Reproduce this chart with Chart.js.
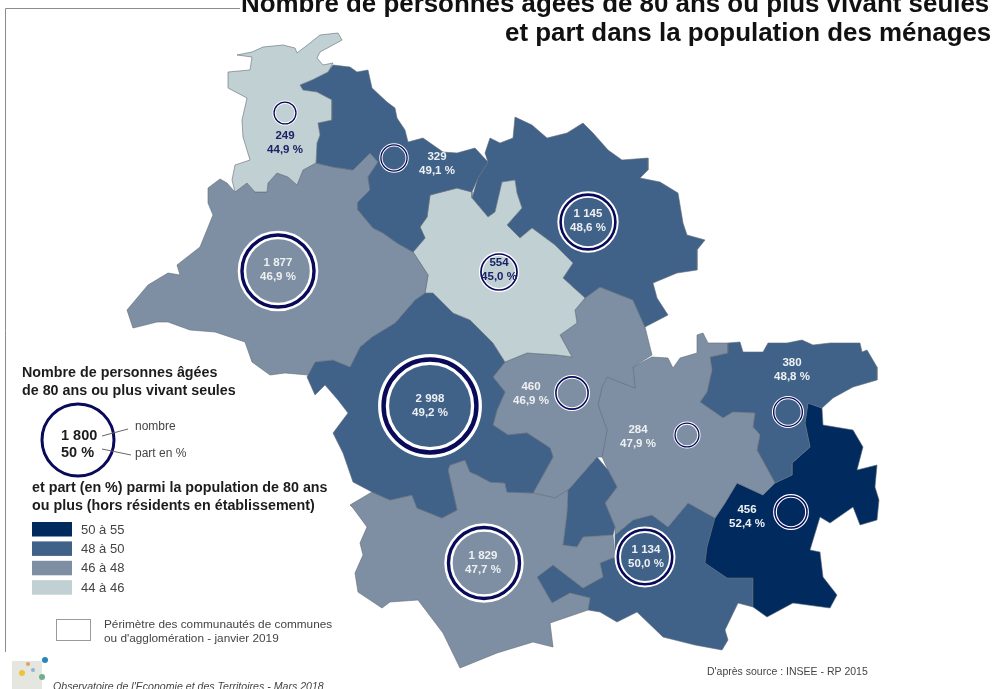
<!DOCTYPE html>
<html lang="fr">
<head>
<meta charset="utf-8">
<title>Personnes âgées vivant seules</title>
<script src="https://cdn.jsdelivr.net/npm/chart.js@4"></script>
<style>
    html, body { margin: 0; padding: 0; background: #fff; overflow: hidden; }
    canvas { display: block; }
</style>
</head>
<body>
<canvas id="myChart1" width="992" height="689"></canvas>
<script>
// *******
// * Data *
// *******
var counts = [249, 329, 1877, 1145, 554, 460, 2998, 1829, 1134, 284, 380, 456];
var shares = [44.9, 49.1, 46.9, 48.6, 45.0, 46.9, 49.2, 47.7, 50.0, 47.9, 48.8, 52.4];
var countLabels = ['249', '329', '1 877', '1 145', '554', '460', '2 998', '1 829', '1 134', '284', '380', '456'];
var shareLabels = ['44,9 %', '49,1 %', '46,9 %', '48,6 %', '45,0 %', '46,9 %', '49,2 %', '47,7 %', '50,0 %', '47,9 %', '48,8 %', '52,4 %'];
var classLabels = ['50 à 55', '48 à 50', '46 à 48', '44 à 46'];
var classColors = ['#012a5e', '#406288', '#7f8fa3', '#c0d0d3'];

// map coordinates
var circleX = [285, 394, 278, 588, 499, 572, 430, 484, 645, 687, 788, 791];
var circleY = [113, 158, 271, 222, 272, 393, 406, 563, 557, 435, 412, 512];
var labelX = [285, 437, 278, 588, 499, 531, 430, 483, 646, 638, 792, 747];
var labelY = [136, 157, 263, 214, 263, 387, 399, 556, 550, 430, 363, 510];

var regionA = [[237,55],[252,52],[263,47],[283,45],[295,48],[297,53],[310,43],[320,35],[338,33],[342,40],[333,45],[320,52],[317,58],[323,65],[333,63],[328,72],[312,80],[300,85],[303,90],[317,92],[332,100],[332,120],[318,123],[320,135],[317,143],[316,163],[303,170],[297,185],[288,177],[277,173],[268,183],[267,192],[255,192],[247,183],[235,192],[232,180],[235,165],[250,160],[243,137],[242,120],[247,98],[228,88],[228,72],[250,70],[252,57]];
var regionB = [[328,72],[333,65],[350,67],[357,72],[368,70],[372,88],[387,102],[395,108],[397,118],[405,130],[408,142],[423,138],[443,152],[457,153],[475,148],[488,162],[478,178],[472,192],[457,188],[430,195],[427,217],[420,227],[425,238],[413,252],[397,243],[383,233],[373,228],[358,210],[358,202],[370,190],[368,177],[378,162],[370,153],[360,163],[353,170],[333,167],[316,163],[317,143],[320,135],[318,123],[332,120],[332,100],[317,92],[303,90],[300,85],[312,80]];
var regionC = [[208,188],[220,179],[227,183],[235,192],[247,183],[255,192],[267,192],[268,183],[277,173],[288,177],[297,185],[303,170],[316,163],[333,167],[353,170],[360,163],[370,153],[378,162],[368,177],[370,190],[358,202],[358,210],[373,228],[383,233],[397,243],[413,252],[428,275],[425,293],[415,300],[395,323],[372,337],[360,347],[350,367],[333,360],[315,362],[308,375],[285,373],[270,375],[252,362],[245,342],[215,332],[190,330],[168,322],[157,322],[133,328],[127,310],[148,285],[168,273],[180,275],[177,265],[200,247],[213,215],[208,203]];
var regionD = [[430,195],[457,188],[472,192],[472,198],[488,217],[495,212],[502,182],[515,180],[517,193],[522,208],[507,225],[520,238],[532,228],[555,245],[573,263],[563,278],[585,298],[575,310],[577,323],[560,335],[572,357],[557,355],[527,353],[505,362],[493,343],[470,320],[453,313],[433,293],[425,293],[428,275],[413,252],[425,238],[420,227],[427,217]];
var regionE = [[488,162],[485,153],[490,138],[500,143],[513,138],[515,117],[532,125],[547,138],[567,133],[583,123],[593,133],[608,150],[622,160],[648,158],[648,170],[640,178],[660,182],[678,193],[683,223],[687,235],[705,240],[697,250],[697,270],[677,273],[653,283],[657,298],[668,315],[645,327],[633,300],[600,287],[585,298],[563,278],[573,263],[555,245],[532,228],[520,238],[507,225],[522,208],[517,193],[515,180],[502,182],[495,212],[488,217],[472,198],[478,178]];
var regionF = [[415,300],[425,293],[433,293],[453,313],[470,320],[493,343],[505,362],[493,377],[505,392],[497,410],[493,425],[508,435],[527,433],[550,448],[553,457],[533,493],[507,492],[505,483],[490,482],[477,475],[470,472],[465,460],[450,465],[448,470],[457,510],[442,518],[417,508],[412,495],[390,500],[372,492],[353,482],[343,453],[333,433],[348,413],[338,400],[325,385],[315,395],[307,377],[315,362],[333,360],[350,367],[360,347],[372,337],[395,323]];
var regionG = [[350,505],[372,492],[390,500],[412,495],[417,508],[442,518],[457,510],[448,470],[450,465],[465,460],[470,472],[477,475],[490,482],[505,483],[507,492],[533,493],[555,498],[568,490],[567,513],[563,545],[577,547],[583,537],[613,535],[615,557],[600,563],[603,577],[583,588],[553,565],[537,577],[552,603],[570,593],[590,598],[588,610],[550,623],[553,647],[533,642],[497,653],[460,668],[443,633],[418,600],[390,602],[382,608],[358,592],[355,573],[363,555],[360,543],[367,527],[353,508]];
var regionH = [[505,362],[527,353],[557,355],[572,357],[560,335],[577,323],[575,310],[585,298],[600,287],[633,300],[645,327],[652,355],[633,367],[635,388],[607,377],[602,387],[598,405],[607,430],[602,457],[597,457],[570,487],[568,490],[555,498],[533,493],[553,457],[550,448],[527,433],[508,435],[493,425],[497,410],[505,392],[493,377]];
var regionI = [[597,457],[608,470],[617,487],[605,503],[615,527],[613,535],[583,537],[577,547],[563,545],[567,513],[568,490],[583,473]];
var regionJ = [[602,387],[607,377],[635,388],[633,367],[652,357],[668,358],[673,368],[680,358],[697,353],[697,335],[703,333],[708,343],[728,343],[728,353],[710,357],[712,370],[707,392],[700,402],[723,418],[733,412],[755,413],[753,427],[760,435],[757,450],[775,483],[763,495],[737,483],[725,503],[715,518],[688,503],[668,527],[652,515],[633,520],[615,535],[615,527],[605,503],[617,487],[608,470],[602,457],[607,430],[598,405]];
var regionK = [[710,357],[728,353],[728,343],[740,342],[743,352],[763,352],[768,343],[787,343],[802,340],[813,345],[830,343],[860,343],[862,352],[867,350],[877,367],[877,380],[853,387],[833,398],[822,408],[808,403],[805,423],[810,447],[792,463],[792,475],[775,483],[757,450],[760,435],[753,427],[755,413],[733,412],[723,418],[700,402],[707,392],[712,370]];
var regionL = [[808,403],[822,408],[823,425],[853,430],[863,447],[857,470],[877,465],[875,487],[879,500],[877,520],[860,525],[853,507],[830,523],[820,517],[810,550],[820,552],[823,577],[837,595],[830,608],[793,603],[767,617],[753,607],[753,578],[727,578],[705,563],[707,547],[715,518],[725,503],[737,483],[763,495],[775,483],[792,475],[792,463],[810,447],[805,423]];
var regionM = [[615,535],[633,520],[652,515],[668,527],[688,503],[715,518],[707,547],[705,563],[727,578],[753,578],[753,607],[738,603],[725,630],[728,640],[722,650],[695,645],[663,637],[637,612],[617,622],[600,612],[588,610],[590,598],[570,593],[552,603],[537,577],[553,565],[583,588],[603,577],[600,563],[615,557]];

// which share each department takes its colour from
var regionShares = [44.9, 49.1, 46.9, 45.0, 48.6, 49.2, 47.7, 46.9, 48.0, 47.9, 48.8, 52.4, 50.0];
var regions = [regionA, regionB, regionC, regionD, regionE, regionF, regionG, regionH, regionI, regionJ, regionK, regionL, regionM];

// ***********
// * Helpers *
// ***********
function classColor(share) {
    if (share > 50) return classColors[0];
    if (share >= 48) return classColors[1];
    if (share >= 46) return classColors[2];
    return classColors[3];
}

function toPoints(region) {
    var pts = region.map(function(p) { return { x: p[0], y: p[1] }; });
    pts.push(pts[0]);
    return pts;
}

function ringRadius(count) {
    return Math.sqrt(count) * 0.91 - 3.4;
}

function ringPoints() {
    return counts.map(function(c, i) {
        return { x: circleX[i], y: circleY[i], r: ringRadius(c) };
    });
}

function ringWidth(ctx) {
    return Math.max(1.3, ringRadius(counts[ctx.dataIndex]) * 0.095);
}

// *****************
// * Text and keys *
// *****************
var mapText = {
    id: 'mapText',
    afterDatasetsDraw: function(chart) {
        var c = chart.ctx;
        var sans = '"Liberation Sans", Arial, sans-serif';
        c.save();

        // frame
        c.strokeStyle = '#8c8c8c';
        c.lineWidth = 1;
        c.beginPath();
        c.moveTo(5.5, 652);
        c.lineTo(5.5, 8.5);
        c.lineTo(240, 8.5);
        c.stroke();

        // title
        c.fillStyle = '#111';
        c.textBaseline = 'alphabetic';
        c.textAlign = 'left';
        c.font = 'bold 25.9px ' + sans;
        c.fillText('Nombre de personnes âgées de 80 ans ou plus vivant seules', 241, 12);
        c.fillText('et part dans la population des ménages', 505, 41);

        // values on the map
        c.textAlign = 'center';
        c.textBaseline = 'middle';
        c.font = 'bold 11.5px ' + sans;
        counts.forEach(function(v, i) {
            c.fillStyle = shares[i] < 46 ? '#1a2266' : '#eef0f2';
            c.fillText(countLabels[i], labelX[i], labelY[i]);
            c.fillText(shareLabels[i], labelX[i], labelY[i] + 14);
        });

        // circle key
        c.textAlign = 'left';
        c.fillStyle = '#1c1c1c';
        c.font = 'bold 14.3px ' + sans;
        c.fillText('Nombre de personnes âgées', 22, 373);
        c.fillText('de 80 ans ou plus vivant seules', 22, 391);
        c.fillText('et part (en %) parmi la population de 80 ans', 32, 488);
        c.fillText('ou plus (hors résidents en établissement)', 32, 506);

        c.strokeStyle = '#0a0a5a';
        c.lineWidth = 3;
        c.beginPath();
        c.arc(78, 440, 36, 0, Math.PI * 2);
        c.stroke();
        c.font = 'bold 14.5px ' + sans;
        c.fillText('1 800', 61, 436);
        c.fillText('50 %', 61, 453);

        c.strokeStyle = '#666';
        c.lineWidth = 1;
        c.beginPath();
        c.moveTo(102, 436);
        c.lineTo(128, 429);
        c.moveTo(102, 449);
        c.lineTo(131, 455);
        c.stroke();
        c.fillStyle = '#444';
        c.font = '12px ' + sans;
        c.fillText('nombre', 135, 427);
        c.fillText('part en %', 135, 454);

        // colour key
        classLabels.forEach(function(label, i) {
            var top = 522 + i * 19.4;
            c.fillStyle = classColors[i];
            c.fillRect(32, top, 40, 14.5);
            c.fillStyle = '#444';
            c.font = '13px ' + sans;
            c.fillText(label, 81, top + 8);
        });

        c.strokeStyle = '#9a9a9a';
        c.strokeRect(56.5, 619.5, 34, 21);
        c.fillStyle = '#444';
        c.font = '11.8px ' + sans;
        c.fillText('Périmètre des communautés de communes', 104, 625);
        c.fillText("ou d'agglomération - janvier 2019", 104, 639);

        // footer
        c.font = '10.5px ' + sans;
        c.fillText("D'après source : INSEE - RP 2015", 707, 672);
        c.font = 'italic 10.6px ' + sans;
        c.fillText("Observatoire de l'Economie et des Territoires - Mars 2018", 53, 687);

        // logo
        c.fillStyle = '#e6e6e0';
        c.fillRect(12, 661, 30, 28);
        [['#2a86b8', 45, 660, 3], ['#e8c43c', 22, 673, 3], ['#6fb08c', 42, 677, 3], ['#8fb6d8', 33, 670, 2], ['#e0a060', 28, 664, 2]].forEach(function(d) {
            c.fillStyle = d[0];
            c.beginPath();
            c.arc(d[1], d[2], d[3], 0, Math.PI * 2);
            c.fill();
        });

        c.restore();
    }
};

// *********
// * Chart *
// *********
var datasets = regions.map(function(region, i) {
    return {
        label: 'region' + i,
        data: toPoints(region),
        showLine: true,
        fill: 'shape',
        backgroundColor: classColor(regionShares[i]),
        borderColor: '#5f6c78',
        borderWidth: 0.6,
        pointRadius: 0,
        tension: 0,
        order: 3
    };
});

datasets.push({
    type: 'bubble',
    label: 'halo',
    data: ringPoints(),
    backgroundColor: 'rgba(0,0,0,0)',
    borderColor: '#ffffff',
    borderWidth: function(ctx) { return ringWidth(ctx) * 2.5; },
    order: 2
});

datasets.push({
    type: 'bubble',
    label: 'nombre',
    data: ringPoints(),
    backgroundColor: 'rgba(0,0,0,0)',
    borderColor: '#0a0a5a',
    borderWidth: ringWidth,
    order: 1
});

var ctx = document.getElementById('myChart1').getContext('2d');
var chart = new Chart(ctx, {
    type: 'scatter',
    data: { datasets: datasets },
    plugins: [mapText],
    options: {
        responsive: false,
        animation: false,
        layout: { padding: 0, autoPadding: false },
        events: [],
        plugins: {
            legend: { display: false },
            title: { display: false },
            tooltip: { enabled: false }
        },
        scales: {
            x: { type: 'linear', display: false, min: 0, max: 992 },
            y: { type: 'linear', display: false, min: 0, max: 689, reverse: true }
        }
    }
});
</script>
</body>
</html>
